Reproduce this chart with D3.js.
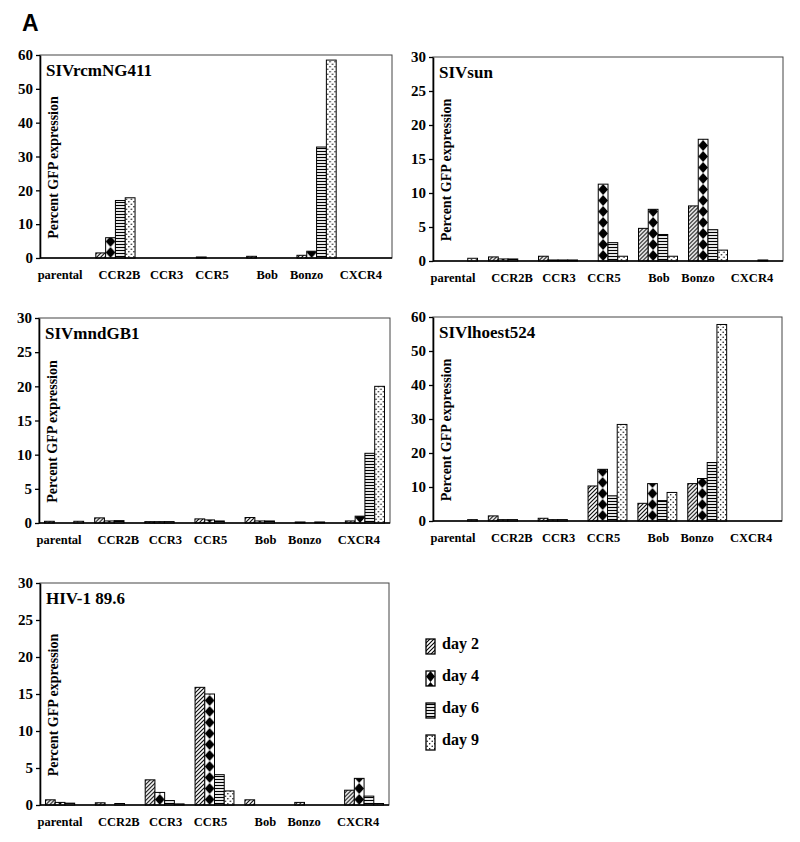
<!DOCTYPE html>
<html>
<head>
<meta charset="utf-8">
<script src="https://cdn.jsdelivr.net/npm/d3@7"></script>
<style>
  body { margin: 0; background: #fff; }
  text { font-family: "Liberation Serif", "Times New Roman", serif; font-weight: bold; fill: #000; }
</style>
</head>
<body>
<svg id="fig" width="800" height="842"></svg>
<script>
const categories = ['parental', 'CCR2B', 'CCR3', 'CCR5', 'Bob', 'Bonzo', 'CXCR4'];
const days = ['day 2', 'day 4', 'day 6', 'day 9'];

// one row per category: [day 2, day 4, day 6, day 9]
const sivRcmNG411 = [
  [0, 0, 0, 0],
  [1.5, 6, 17, 17.8],
  [0, 0, 0, 0],
  [0.3, 0, 0, 0],
  [0.5, 0, 0, 0],
  [0.8, 2, 32.8, 58.5],
  [0, 0, 0, 0]
];
const sivSun = [
  [0, 0, 0, 0.4],
  [0.6, 0.3, 0.3, 0],
  [0.7, 0.15, 0.15, 0.15],
  [0, 11.3, 2.7, 0.7],
  [4.8, 7.6, 3.9, 0.7],
  [8.1, 17.9, 4.6, 1.6],
  [0, 0, 0.15, 0]
];
const sivMndGB1 = [
  [0.25, 0, 0, 0.25],
  [0.75, 0.3, 0.35, 0],
  [0.2, 0.2, 0.2, 0],
  [0.6, 0.45, 0.3, 0],
  [0.8, 0.3, 0.3, 0],
  [0.15, 0, 0.15, 0],
  [0.3, 1, 10.2, 20]
];
const sivLhoest524 = [
  [0, 0, 0, 0.4],
  [1.5, 0.4, 0.4, 0],
  [0.8, 0.4, 0.4, 0],
  [10.3, 15.2, 7.4, 28.4],
  [5.2, 11, 6, 8.4],
  [11, 12.5, 17.2, 57.8],
  [0, 0, 0, 0]
];
const hiv896 = [
  [0.7, 0.35, 0.25, 0],
  [0.3, 0, 0.2, 0],
  [3.4, 1.7, 0.6, 0.15],
  [15.9, 15, 4.1, 1.9],
  [0.7, 0, 0, 0],
  [0.35, 0, 0, 0],
  [2, 3.6, 1.2, 0.2]
];
const panelTitles = ['SIVrcmNG411', 'SIVsun', 'SIVmndGB1', 'SIVlhoest524', 'HIV-1 89.6'];
const panelData = [sivRcmNG411, sivSun, sivMndGB1, sivLhoest524, hiv896];
const panelMax = [60, 30, 30, 60, 30];
const panelStep = [10, 5, 5, 10, 5];

// plot boxes [left, top, right, bottom]
const boxes = [
  [40, 55, 392, 258],
  [433, 57, 783, 261],
  [39, 318, 390, 523],
  [433, 317, 782, 521],
  [40, 583, 389, 805]
];
// the typed category labels sit a little off the band centres
const labelShift = [-5, 4, 1, -4, 1, -10, -6];

const svg = d3.select('#fig');
const defs = svg.append('defs');

// shared fills
const hatch = defs.append('pattern').attr('id', 'hatch')
  .attr('patternUnits', 'userSpaceOnUse').attr('width', 4).attr('height', 4);
hatch.append('rect').attr('width', 4).attr('height', 4).attr('fill', '#fff');
hatch.append('path').attr('d', 'M-1,1 l2,-2 M0,4 l4,-4 M3,5 l2,-2')
  .attr('stroke', '#000').attr('stroke-width', 1.1);

const stripes = defs.append('pattern').attr('id', 'stripes')
  .attr('patternUnits', 'userSpaceOnUse').attr('width', 4).attr('height', 3);
stripes.append('rect').attr('width', 4).attr('height', 3).attr('fill', '#fff');
stripes.append('line').attr('x1', 0).attr('x2', 4).attr('y1', 1.5).attr('y2', 1.5)
  .attr('stroke', '#000').attr('stroke-width', 1.2);

const dots = defs.append('pattern').attr('id', 'dots')
  .attr('patternUnits', 'userSpaceOnUse').attr('width', 5).attr('height', 5);
dots.append('rect').attr('width', 5).attr('height', 5).attr('fill', '#fff');
dots.append('circle').attr('cx', 1.2).attr('cy', 1.2).attr('r', 0.75).attr('fill', '#000');
dots.append('circle').attr('cx', 3.7).attr('cy', 3.7).attr('r', 0.75).attr('fill', '#000');

const diamondPattern = (id, w) => {
  const h = 11;
  const p = defs.append('pattern').attr('id', id)
    .attr('patternUnits', 'userSpaceOnUse').attr('width', w).attr('height', h);
  p.append('rect').attr('width', w).attr('height', h).attr('fill', '#fff');
  p.append('path').attr('d', `M${w / 2},0 L${w},${h / 2} L${w / 2},${h} L0,${h / 2}Z`).attr('fill', '#000');
};

const fills = (pi) => ['url(#hatch)', `url(#diam${pi})`, 'url(#stripes)', 'url(#dots)'];

svg.append('text')
  .attr('x', 22).attr('y', 31)
  .style('font-family', '"Liberation Sans", Arial, sans-serif')
  .style('font-size', '23px')
  .text('A');

panelData.forEach((rows, pi) => {
  const [x0, y0, x1b, y1b] = boxes[pi];

  const x = d3.scaleBand().domain(categories).range([x0, x1b])
    .paddingInner(0.22).paddingOuter(0.11);
  const xDay = d3.scaleBand().domain(days).range([0, x.bandwidth()]);
  const y = d3.scaleLinear().domain([0, panelMax[pi]]).range([y1b, y0]);

  diamondPattern('diam' + pi, xDay.bandwidth());
  const fill = fills(pi);

  const g = svg.append('g');

  // frame
  g.append('rect')
    .attr('x', x0).attr('y', y0).attr('width', x1b - x0).attr('height', y1b - y0)
    .attr('fill', 'none').attr('stroke', '#444').attr('stroke-width', 1);

  // bars, each in its own group so the diamond pattern lines up with the bar
  const cat = g.selectAll('.cat')
    .data(rows.map((r, i) => ({ cat: categories[i], vals: r })))
    .enter().append('g')
    .attr('class', 'cat');

  cat.selectAll('g.bar')
    .data(d => d.vals.map((v, j) => ({ cat: d.cat, day: days[j], j, v })).filter(b => b.v > 0))
    .enter().append('g')
    .attr('class', 'bar')
    .attr('transform', b => `translate(${x(b.cat) + xDay(b.day)},${y1b})`)
    .append('rect')
    .attr('x', 0)
    .attr('y', b => y(b.v) - y1b)
    .attr('width', xDay.bandwidth())
    .attr('height', b => y1b - y(b.v))
    .attr('fill', b => fill[b.j])
    .attr('stroke', '#000')
    .attr('stroke-width', 1);

  // y axis
  const yAxis = g.append('g')
    .attr('transform', `translate(${x0},0)`)
    .call(d3.axisLeft(y)
      .tickValues(d3.range(0, panelMax[pi] + 1, panelStep[pi]))
      .tickFormat(d3.format('d'))
      .tickSize(4).tickSizeOuter(0).tickPadding(3))
    .attr('font-family', null)
    .attr('font-size', null);
  yAxis.select('.domain').attr('stroke', '#000').attr('stroke-width', 1.6);
  yAxis.selectAll('.tick line').attr('stroke', '#000').attr('stroke-width', 1.3);
  yAxis.selectAll('.tick text')
    .style('font-family', '"Liberation Serif", serif')
    .style('font-weight', 'bold')
    .style('font-size', '15px');

  // x axis line
  g.append('line')
    .attr('x1', x0).attr('x2', x1b).attr('y1', y1b).attr('y2', y1b)
    .attr('stroke', '#000').attr('stroke-width', 1.6);

  // category labels
  g.selectAll('.cat-label')
    .data(categories)
    .enter().append('text')
    .attr('class', 'cat-label')
    .attr('x', (c, i) => x(c) + x.bandwidth() / 2 + labelShift[i])
    .attr('y', y1b + 21)
    .attr('text-anchor', 'middle')
    .style('font-size', '12.5px')
    .text(c => c);

  // panel title
  g.append('text')
    .attr('x', x0 + 6).attr('y', y0 + 21)
    .style('font-size', '17px')
    .text(panelTitles[pi]);

  // y label
  g.append('text')
    .attr('transform', `translate(${x0 + 18},${(y0 + y1b) / 2 + 11}) rotate(-90)`)
    .attr('text-anchor', 'middle')
    .style('font-size', '14px')
    .text('Percent GFP expression');
});

// legend
diamondPattern('diamLeg', 9);
const legFills = ['url(#hatch)', 'url(#diamLeg)', 'url(#stripes)', 'url(#dots)'];
const leg = svg.append('g').selectAll('g')
  .data(days)
  .enter().append('g')
  .attr('transform', (d, i) => `translate(426,${639 + i * 32})`);

leg.append('rect')
  .attr('width', 9).attr('height', 15)
  .attr('fill', (d, i) => legFills[i])
  .attr('stroke', '#000').attr('stroke-width', 1.3);

leg.append('text')
  .attr('x', 16).attr('y', 10)
  .style('font-size', '16px')
  .text(d => d);
</script>
</body>
</html>
